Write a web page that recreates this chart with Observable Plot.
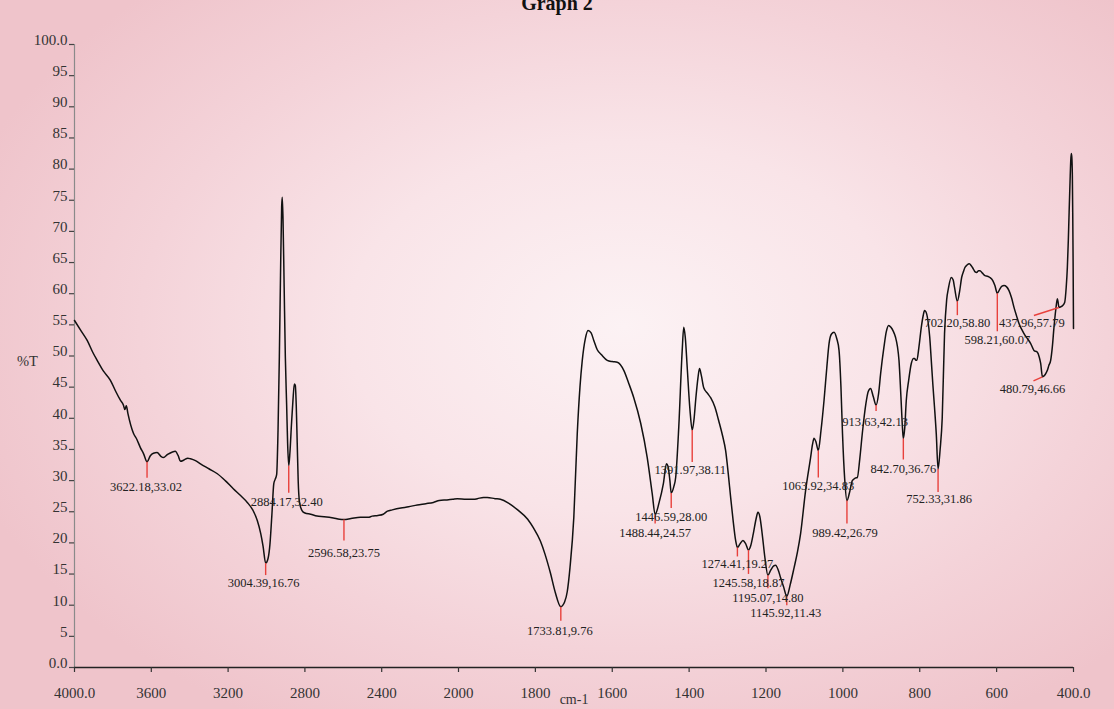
<!DOCTYPE html>
<html>
<head>
<meta charset="utf-8">
<script src="https://cdn.jsdelivr.net/npm/d3@7"></script>
<script src="https://cdn.jsdelivr.net/npm/@observablehq/plot@0.6"></script>
<style>
html, body { margin: 0; padding: 0; width: 1114px; height: 709px; overflow: hidden; }
body {
  position: relative;
  background: radial-gradient(ellipse 62% 65% at 56% 46%, #fcf2f4 0%, #f9e4e8 40%, #f4d3d9 70%, #efc4cb 100%);
  font-family: "Liberation Serif", serif;
}
#title {
  position: absolute; top: -7px; left: 0; width: 1114px; text-align: center;
  font: bold 20px/20px "Liberation Serif", serif; color: #111;
}
#chart { position: absolute; top: 0; left: 0; }
</style>
</head>
<body>
<div id="chart"></div>
<div id="title">Graph 2</div>
<script>
// ---- spectrum (wavenumber cm-1, %T) ----
const wavenumber = [
  4000, 3965, 3934, 3905, 3882, 3850, 3813, 3785, 3761, 3745, 3738, 3730, 3722, 3693, 3675, 3657, 3640, 3622.18,
  3605, 3589, 3570, 3550, 3537, 3515, 3490, 3475, 3460, 3448, 3430, 3410, 3396, 3370, 3344, 3300, 3256, 3215,
  3173, 3135, 3100, 3070, 3048, 3030, 3018, 3004.39, 2992, 2982, 2972, 2962, 2955, 2947, 2940, 2933, 2927, 2921,
  2918, 2914, 2908, 2902, 2895, 2890, 2884.17, 2878, 2870, 2862, 2855, 2850, 2845, 2840, 2835, 2828, 2815, 2800,
  2770, 2737, 2700, 2652, 2620, 2596.58, 2560, 2511, 2470, 2450, 2420, 2392, 2370, 2345, 2300, 2260, 2215, 2170,
  2131, 2100, 2060, 2030, 2006, 1980, 1960, 1951, 1935, 1925, 1905, 1891, 1870, 1846, 1820, 1805, 1787, 1775,
  1761, 1748, 1733.81, 1724, 1717, 1710, 1700, 1691, 1684, 1678, 1670, 1663, 1655, 1648, 1639, 1628, 1613, 1600,
  1587, 1570, 1557, 1544, 1526, 1509, 1496, 1488.44, 1478, 1467, 1459, 1455, 1450, 1446.59, 1440, 1435, 1427, 1418,
  1414, 1410, 1405, 1398, 1391.97, 1387, 1383, 1377, 1373, 1368, 1362, 1352, 1344, 1333, 1323, 1313, 1305, 1298,
  1292, 1285, 1279, 1274.41, 1268, 1260, 1253, 1245.58, 1240, 1233, 1226, 1221, 1216, 1210, 1203, 1195.07, 1188,
  1180, 1175, 1168, 1162, 1154, 1145.92, 1137, 1127, 1118, 1110, 1097, 1084, 1079, 1075, 1070, 1063.92, 1057, 1049,
  1042, 1036, 1030, 1023, 1016, 1010, 1005, 1001, 995, 989.42, 983, 975.4, 968, 962.4, 956, 949.4, 940, 934, 928,
  921, 913.63, 907, 901.7, 893, 887, 881, 875, 869, 863, 858, 854, 849, 845, 842.70, 839, 835, 829, 822, 816, 813.5,
  810, 807.6, 802, 796, 791, 787.5, 784, 778.8, 774, 770, 766, 761.5, 757, 752.33, 747, 741.5, 735.5, 730, 725, 718,
  713, 709.5, 702.20, 696, 691, 686, 682.5, 677, 671, 666, 660.8, 656, 652, 647, 643.3, 637, 630.3, 624, 617.5, 610,
  604.5, 598.21, 592, 586, 580.8, 574, 567.8, 561, 554.8, 548, 541.8, 535, 528.8, 520, 511.4, 502.8, 494, 489, 485.4,
  480.79, 474, 468, 464, 459.4, 455, 450.8, 446, 442, 440, 437.96, 430, 423, 419, 416, 413.5, 411.8, 409, 407, 405.7,
  404.5, 403, 402, 401, 400
];
const transmittance = [
  55.7, 54.0, 52.5, 50.6, 49.3, 47.6, 46.1, 44.3, 42.9, 42.1, 41.4, 42.0, 40.8, 37.6, 36.6, 35.3, 34.3, 33.02,
  34.0, 34.4, 34.5, 33.9, 33.7, 34.2, 34.6, 34.7, 34.0, 33.1, 33.3, 33.6, 33.5, 33.2, 32.7, 31.9, 31.1, 30.0,
  28.7, 27.6, 26.5, 25.2, 23.6, 21.5, 19.5, 16.76, 17.5, 19.8, 24.5, 29.5, 30.2, 31.0, 38, 50, 63, 74,
  75.5, 72, 61, 50, 42, 36, 32.40, 34.5, 39, 43, 45.5, 45.3, 42, 36, 30, 26.5, 25.2, 24.8,
  24.6, 24.3, 24.2, 24.0, 23.8, 23.75, 23.9, 24.1, 24.1, 24.3, 24.4, 24.6, 25.1, 25.3, 25.6, 25.8, 26.1, 26.3,
  26.5, 26.8, 26.9, 27.0, 27.1, 27.0, 27.0, 27.1, 27.3, 27.3, 27.1, 27.0, 26.4, 25.3, 23.8, 22.4, 20.3, 18.2,
  15.2, 12.0, 9.76, 10.5, 12.2, 16, 24.1, 37.6, 45, 49.3, 52.8, 54.1, 53.7, 52.5, 51.0, 50.2, 49.3, 49.1,
  49.0, 47.7, 45.6, 43.3, 39.2, 33.7, 27.9, 24.57, 26.5, 29.5, 32.7, 32.3, 30.0, 28.00, 29.0, 30.5, 38.5, 50.9,
  54.6, 53, 48.2, 41.5, 38.11, 40, 42.9, 46.5, 48.0, 46.8, 44.9, 44.0, 43.3, 41.8, 39.6, 37.2, 34.8, 31.0,
  27.3, 23.3, 20.4, 19.27, 19.8, 20.4, 19.9, 18.87, 19.5, 21.5, 23.8, 24.9, 24.2, 21.5, 17.7, 14.80, 15.6,
  16.3, 16.4, 15.6, 14.4, 12.9, 11.43, 13.3, 16.0, 18.6, 21.5, 28.4, 33.7, 35.8, 36.8, 36.2, 34.83, 38, 42.9,
  48, 52.0, 53.5, 53.8, 52.8, 50.9, 45, 37.6, 30, 26.79, 28, 30.0, 30.4, 30.5, 33.5, 37.6, 42.4, 44.3, 44.8,
  43.5, 42.13, 44, 47.2, 51.5, 53.9, 54.9, 54.6, 54.0, 53.0, 51.5, 49.3, 43.5, 38.5, 36.76, 38.5, 42.9, 46, 48.8, 49.6, 49.6,
  49.3, 49.3, 51.5, 54.6, 56.5, 57.3, 57.1, 55.7, 53.0, 49.3, 45.5, 41.7, 37.5, 31.86, 35.0, 40.1, 53.6, 59.0, 61.0, 62.6,
  62.2, 61.0, 58.80, 60.5, 62.6, 63.6, 64.2, 64.6, 64.8, 64.5, 64.0, 63.5, 63.4, 63.7, 63.7, 63.3, 62.9, 62.8, 62.6, 62.1,
  61.3, 60.07, 60.7, 61.2, 61.3, 61.1, 60.5, 59.3, 57.8, 56.4, 55.2, 54.3, 53.6, 52.8, 52.0, 50.9, 50.6, 49.8, 48.8,
  46.66, 47.0, 47.7, 48.5, 49.3, 51.5, 54.6, 57.5, 59.2, 58.6, 57.79, 58.0, 58.6, 61.0, 64.2, 68.5, 72.2, 78, 81.5, 82.5,
  82, 79, 73, 65, 54.4
];

// ---- labelled peaks ----
const peakWavenumber = [3622.18, 3004.39, 2884.17, 2596.58, 1733.81, 1488.44, 1446.59, 1391.97, 1274.41, 1245.58,
  1195.07, 1145.92, 1063.92, 989.42, 913.63, 842.70, 752.33, 702.20, 598.21, 437.96, 480.79];
const peakTransmittance = [33.02, 16.76, 32.40, 23.75, 9.76, 24.57, 28.00, 38.11, 19.27, 18.87,
  14.80, 11.43, 34.83, 26.79, 42.13, 36.76, 31.86, 58.80, 60.07, 57.79, 46.66];

// ---- axis ticks ----
const xTicks = [4000, 3600, 3200, 2800, 2400, 2000, 1800, 1600, 1400, 1200, 1000, 800, 600, 400];
const yTicks = [0, 5, 10, 15, 20, 25, 30, 35, 40, 45, 50, 55, 60, 65, 70, 75, 80, 85, 90, 95, 100];

// ---- annotation layout (pixel offsets from the peak: leader end dx, dy; label dx, dy) ----
const peakLayout = [
  [0, 16, -1, 25], [0, 12, -2, 20], [0, 27, -2, 36], [0, 21, 0, 33], [0, 14, -1, 24],
  [0, 9, 0, 19], [0, 15, 0, 24], [0, 32, -2, 40], [0, 9, 0, 17], [0, 24, 0, 33],
  [0, 13, 0, 23], [0, 9, -1, 17], [0, 27, 0, 35], [0, 23, -2, 32], [0, 6, -1, 17],
  [0, 21, 0, 31], [0, 23, 1, 30], [0, 14, 0, 22], [0, 38, 0, 47], [-25, 8, -27, 16], [-9, 4, -10, 12]
];

const xOpts = {type: "linear", domain: [4000, 2000, 400], range: [74, 458, 1073]};
const yOpts = {type: "linear", domain: [0, 100], range: [667, 44]};
// pixel <-> data helpers with the same piecewise mapping as the Plot scales
const xs = d3.scaleLinear().domain(xOpts.domain).range(xOpts.range);
const ys = d3.scaleLinear().domain(yOpts.domain).range(yOpts.range);

const spectrum = wavenumber.map((w, i) => ({w, t: transmittance[i]}));
const peaks = peakWavenumber.map((w, i) => {
  const t = peakTransmittance[i];
  const [ex, ey, lx, ly] = peakLayout[i];
  const px = xs(w), py = ys(t);
  return {
    w, t,
    w2: xs.invert(px + ex), t2: ys.invert(py + ey),
    wl: xs.invert(px + lx), tl: ys.invert(py + ly),
    label: `${w.toFixed(2)},${t.toFixed(2)}`
  };
});

const fmtX = d => (d === 4000 || d === 400) ? d.toFixed(1) : String(d);
const fmtY = d => (d === 0 || d === 100) ? d.toFixed(1) : String(d);
const tickDownT = ys.invert(ys(0) + 5);
const tickLeftW = xs.invert(xs(4000) - 5);

const chart = Plot.plot({
  width: 1114,
  height: 709,
  marginLeft: 74, marginRight: 41, marginTop: 44, marginBottom: 42,
  x: {...xOpts, axis: null},
  y: {...yOpts, axis: null},
  style: {background: "transparent", fontFamily: "'Liberation Serif', serif", color: "#222"},
  marks: [
    // axes
    Plot.ruleX([4000], {y1: 0, y2: 100, stroke: "#8a8a8a", strokeWidth: 1.2}),
    Plot.ruleY(yTicks, {y: d => d, x1: tickLeftW, x2: 4000, stroke: "#444", strokeWidth: 1.2}),
    Plot.text(yTicks, {x: 4000, y: d => d, text: fmtY, dx: -7, dy: -4.5, textAnchor: "end", fontSize: 15, fill: "#333"}),
    Plot.ruleY([0], {x1: 4000, x2: 400, stroke: "#222", strokeWidth: 1.6}),
    Plot.ruleX(xTicks, {x: d => d, y1: 0, y2: tickDownT, stroke: "#333", strokeWidth: 1.2}),
    Plot.text(xTicks, {x: d => d, y: 0, text: fmtX, dy: 25.5, fontSize: 15, fill: "#333"}),
    Plot.text(["%T"], {frameAnchor: "left", textAnchor: "middle", lineAnchor: "middle", text: d => d, dx: -47, dy: 5.5, fontSize: 14.5, fill: "#333"}),
    Plot.text(["cm-1"], {frameAnchor: "bottom", textAnchor: "middle", lineAnchor: "middle", text: d => d, dx: 0, dy: 32.5, fontSize: 14, fill: "#333"}),
    // spectrum
    Plot.line(spectrum, {x: "w", y: "t", stroke: "#111", strokeWidth: 1.5, curve: "monotone-x"}),
    // peak leaders & labels
    Plot.link(peaks, {x1: "w", y1: "t", x2: "w2", y2: "t2", stroke: "#e8413c", strokeWidth: 1.4}),
    Plot.text(peaks, {x: "wl", y: "tl", text: "label", fontSize: 12.5, fill: "#222"})
  ]
});
document.getElementById("chart").appendChild(chart);
</script>
</body>
</html>
